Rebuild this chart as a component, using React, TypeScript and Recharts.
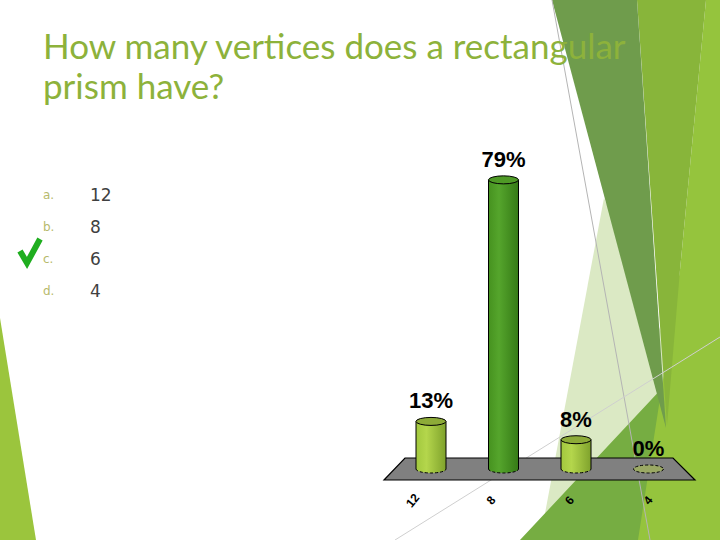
import React from 'react';
import { BarChart, Bar, XAxis, YAxis, LabelList, Cell, ReferenceArea } from 'recharts';

// question + answers
const questionTitle = 'How many vertices does a rectangular prism have?';
const answerLetters = ['a.', 'b.', 'c.', 'd.'];
const answerValues = ['12', '8', '6', '4'];
const correctIndex = 2;

// poll results (percent of votes)
const percents = [13, 79, 8, 0];

const data = answerValues.map((a, i) => ({ answer: a, value: percents[i] }));

// cylinder tones per bar
const tones = [
    { light: '#b4d64c', mid: '#a2c83e', dark: '#7fa22c', top: '#8dab38' },
    { light: '#55a52c', mid: '#46921f', dark: '#357a16', top: '#4f9a26' },
    { light: '#b4d64c', mid: '#a2c83e', dark: '#7fa22c', top: '#8dab38' },
    { light: '#b4d64c', mid: '#a2c83e', dark: '#7fa22c', top: '#9aa864' },
];

const Cylinder = (props: any) => {
    const { x, y, width, height, index } = props;
    const t = tones[index] || tones[0];
    const rx = width / 2;
    const ry = 4;
    const cx = x + rx;
    const bottom = y + height;
    const gid = `cyl-${index}`;
    if (!height || height < 1) {
        return (
            <ellipse cx={cx} cy={bottom} rx={rx} ry={ry} fill={t.top} stroke="#000" strokeWidth={1} strokeDasharray="3 2" />
        );
    }
    return (
        <g>
            <defs>
                <linearGradient id={gid} x1="0" y1="0" x2="1" y2="0">
                    <stop offset="0%" stopColor={t.mid} />
                    <stop offset="35%" stopColor={t.light} />
                    <stop offset="100%" stopColor={t.dark} />
                </linearGradient>
            </defs>
            <path
                d={`M${x},${y} L${x},${bottom} A${rx},${ry} 0 0 0 ${x + width},${bottom} L${x + width},${y} Z`}
                fill={`url(#${gid})`}
            />
            <line x1={x} y1={y} x2={x} y2={bottom} stroke="#000" strokeWidth={1} />
            <line x1={x + width} y1={y} x2={x + width} y2={bottom} stroke="#000" strokeWidth={1} />
            <path
                d={`M${x},${bottom} A${rx},${ry} 0 0 0 ${x + width},${bottom}`}
                fill="none"
                stroke="#000"
                strokeWidth={1}
                strokeDasharray="3 2"
            />
            <ellipse cx={cx} cy={y} rx={rx} ry={ry} fill={t.top} stroke="#000" strokeWidth={1} />
        </g>
    );
};

const Floor = (props: any) => {
    const { x, y, width, height } = props;
    const d = `M${x + 10},${y} L${x + width - 12},${y} L${x + width + 10},${y + height} L${x - 11},${y + height} Z`;
    return <path d={d} fill="#808080" stroke="#000" strokeWidth={1.2} />;
};

const AngledTick = (props: any) => {
    const { x, y, payload, index } = props;
    const shift = -(answerValues.length - 1 - index) * 6;
    const ty = y + 24;
    return (
        <text
            x={x + shift}
            y={ty}
            transform={`rotate(-50, ${x + shift}, ${ty})`}
            textAnchor="middle"
            dominantBaseline="middle"
            fontFamily="'Liberation Sans', Arial, sans-serif"
            fontWeight="bold"
            fontSize={12}
            fill="#000"
        >
            {payload.value}
        </text>
    );
};

const PercentLabel = (props: any) => {
    const { x, y, width, value } = props;
    return (
        <text
            x={x + width / 2}
            y={y - 13}
            textAnchor="middle"
            fontFamily="'Liberation Sans', Arial, sans-serif"
            fontWeight="bold"
            fontSize={22}
            fill="#000"
        >
            {`${value}%`}
        </text>
    );
};

const Backdrop = () => (
    <svg width={720} height={540} style={{ position: 'absolute', left: 0, top: 0 }}>
        <polygon points="0,318 0,540 36,540" fill="#9bc53d" />
        <polygon points="540,540 604,198 720,470 720,540" fill="#dbe9c4" />
        <polygon points="520,540 665,385 720,300 720,540" fill="#76ad42" />
        <polygon points="706,0 720,0 720,540 638,540 680,270" fill="#95c43d" />
        <polygon points="637,0 706,0 680,270 667,425" fill="#88b53a" />
        <polygon points="552,0 637,0 666,428" fill="#6f9c4c" />
        <line x1={552} y1={0} x2={650} y2={540} stroke="#b4b4b4" strokeWidth={1} />
        <line x1={395} y1={540} x2={720} y2={337} stroke="#cfcfcf" strokeWidth={1} />
        <path d="M20,251 L27,263 L40,239" fill="none" stroke="#1fae1f" strokeWidth={6} strokeLinejoin="miter" />
    </svg>
);

export default function App() {
    return (
        <div style={{ position: 'fixed', left: 0, top: 0, width: 720, height: 540, overflow: 'hidden', background: '#fff' }}>
            <Backdrop />
            <div
                style={{
                    position: 'absolute',
                    left: 43,
                    top: 25,
                    width: 620,
                    fontFamily: 'Lato, sans-serif',
                    fontSize: 35,
                    lineHeight: '40px',
                    color: '#8db23b',
                }}
            >
                {questionTitle}
            </div>
            {answerLetters.map((l, i) => (
                <div key={l} style={{ position: 'absolute', left: 43, top: 184 + i * 32, height: 22, display: 'flex', alignItems: 'center' }}>
                    <span style={{ width: 47, fontFamily: "'DejaVu Sans', sans-serif", fontSize: 12, color: '#b7ba6c' }}>{l}</span>
                    <span style={{ fontFamily: "'DejaVu Sans', sans-serif", fontSize: 17, color: '#404040' }}>{answerValues[i]}</span>
                </div>
            ))}
            <div style={{ position: 'absolute', left: 0, top: 0 }}>
                <BarChart width={720} height={540} data={data} margin={{ top: 103, right: 35, bottom: 0, left: 395 }}>
                    <XAxis dataKey="answer" axisLine={false} tickLine={false} tick={<AngledTick />} interval={0} height={71} />
                    <YAxis hide domain={[0, 100]} width={0} />
                    <ReferenceArea y1={-3} y2={3} ifOverflow="visible" shape={<Floor />} />
                    <Bar dataKey="value" barSize={30} shape={<Cylinder />} isAnimationActive={false}>
                        {data.map((d, i) => (
                            <Cell key={d.answer} fill={tones[i].mid} />
                        ))}
                        <LabelList dataKey="value" content={<PercentLabel />} />
                    </Bar>
                </BarChart>
            </div>
        </div>
    );
}
